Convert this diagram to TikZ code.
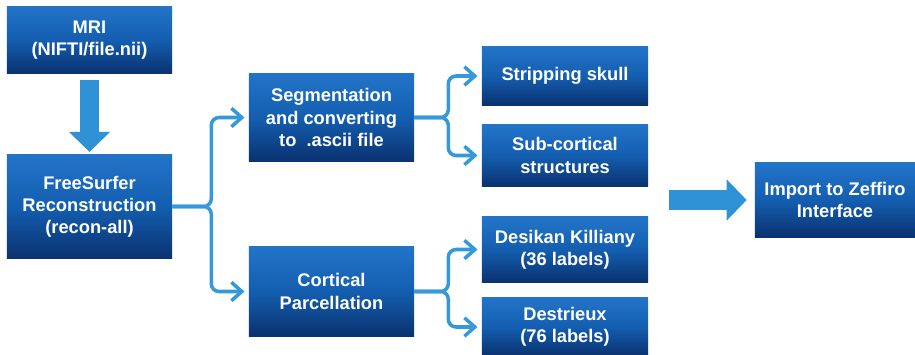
\documentclass[tikz,border=0pt]{standalone}
\usepackage{fontspec}
\setmainfont{Liberation Sans}
\usepackage{xcolor}
\usetikzlibrary{arrows.meta,positioning,calc}
\definecolor{boxtop}{RGB}{34,116,200}
\definecolor{boxmid}{RGB}{20,94,176}
\definecolor{boxbot}{RGB}{10,50,112}
\definecolor{linkblue}{RGB}{52,152,218}
\definecolor{bigblue}{RGB}{48,146,214}

\begin{document}
\begin{tikzpicture}[x=0.025cm,y=-0.025cm,
  font=\bfseries\fontsize{13}{15.7}\selectfont,
  box/.style={top color=boxtop,bottom color=boxbot,middle color=boxmid,
    text=white,align=center,minimum width=4.125cm,inner sep=2pt},
  conn/.style={draw=linkblue,line width=2.5pt,rounded corners=5.5pt,
    -{Straight Barb[length=2.6mm,width=4.6mm]},shorten >=3pt},
  bigarrow/.style={draw=bigblue,-{Triangle[length=5mm,width=10mm]}}]
\useasboundingbox (0,0) rectangle (915,355);
% left column
\node[box,minimum height=1.65cm] (mri) at (89.5,40) {MRI\\(NIFTI/file.nii)};
\node[box,minimum height=2.575cm] (fs) at (89.5,206.5) {FreeSurfer\\Reconstruction\\(recon-all)};
% middle column
\node[box,minimum height=2.175cm] (seg) at (331.5,117.5) {Segmentation\\and converting\\to~ .ascii file};
\node[box,minimum height=2.225cm] (cort) at (331.5,291.5) {Cortical\\Parcellation};
% right column
\node[box,minimum width=4.15cm,minimum height=1.45cm] (strip) at (565,76) {Stripping skull};
\node[box,minimum width=4.15cm,minimum height=1.525cm] (subc) at (565,155.5) {Sub-cortical\\structures};
\node[box,minimum width=4.15cm,minimum height=1.625cm] (desik) at (565,249.5) {Desikan Killiany\\(36 labels)};
\node[box,minimum width=4.15cm,minimum height=1.45cm] (destr) at (565,327) {Destrieux\\(76 labels)};
\node[box,minimum width=4cm,minimum height=1.85cm] (zef) at (835,200) {Import to Zeffiro\\Interface};
% block arrows
\draw[bigarrow,line width=0.45cm,shorten <=5pt,shorten >=2pt] (mri.south) -- (fs.north);
\coordinate (zin) at (669,200);
\draw[bigarrow,line width=0.5cm] (zin) -- ($(zef.west)+(-8,0)$);
% brackets
\foreach \a/\b/\d in {fs/seg/39,fs/cort/39,seg/strip/34,seg/subc/34,cort/desik/34,cort/destr/34}
  \draw[conn] (\a.east) -- ++(\d,0) |- (\b.west);
\end{tikzpicture}
\end{document}
